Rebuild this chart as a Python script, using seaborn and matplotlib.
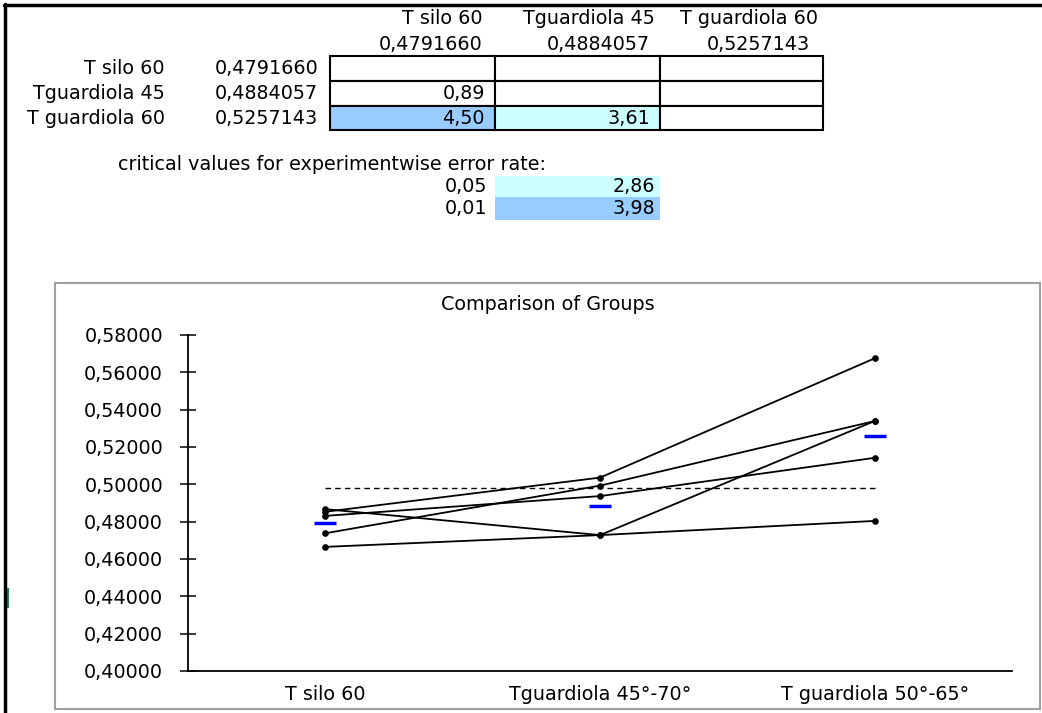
import numpy as np
import pandas as pd
import matplotlib
matplotlib.use('Agg')
import matplotlib.pyplot as plt
import seaborn as sns
from matplotlib.patches import Rectangle
from matplotlib.lines import Line2D
from matplotlib.ticker import FuncFormatter

# groups shown on the chart
categories = ['T silo 60', 'Tguardiola 45°-70°', 'T guardiola 50°-65°']

# one series per subject
subj_1 = [0.4665, 0.4728, 0.4804]
subj_2 = [0.4738, 0.4993, 0.5339]
subj_3 = [0.4867, 0.4728, 0.5339]
subj_4 = [0.4853, 0.5036, 0.5675]
subj_5 = [0.4831, 0.4937, 0.5142]

# group means from the table
table_names = ['T silo 60', 'Tguardiola 45', 'T guardiola 60']
group_means = [0.4791660, 0.4884057, 0.5257143]

# q statistics (row, col) and critical values
q_values = {(1, 0): 0.89, (2, 0): 4.50, (2, 1): 3.61}
alpha_levels = ['0,05', '0,01']
crit_values = [2.86, 3.98]

W, H = 1042, 713
BLUE = '#99CCFF'
CYAN = '#CCFFFF'


def fx(x):
    return x / W


def fy(y):
    return 1 - y / H


def comma(v, nd):
    return f'{v:.{nd}f}'.replace('.', ',')


sns.set_style('white')
plt.rcParams['font.family'] = ['DejaVu Sans']
plt.rcParams['text.color'] = 'black'
FS = 13.8

fig = plt.figure(figsize=(W / 100, H / 100), dpi=100)

# ---- sheet borders ----
fig.add_artist(Rectangle((fx(6), fy(608)), fx(3), 20 / H, color='#2E7D4F', lw=0))
fig.add_artist(Line2D([fx(4.5), fx(4.5)], [fy(4), fy(713)], color='black', lw=2.5))
fig.add_artist(Line2D([fx(4), fx(1042)], [fy(5), fy(5)], color='black', lw=2.5))

# ---- table of group means / q statistics ----
col_right = [483, 655, 818]
val_right = [483, 650, 810]
for name, m, xr, xv in zip(table_names, group_means, col_right, val_right):
    fig.text(fx(xr), fy(18), name, ha='right', va='center', fontsize=FS)
    fig.text(fx(xv), fy(44), comma(m, 7), ha='right', va='center', fontsize=FS)

col_edges = [330, 495, 660, 823]
row_edges = [56, 81, 106, 130]
for i, (name, m) in enumerate(zip(table_names, group_means)):
    yc = (row_edges[i] + row_edges[i + 1]) / 2
    fig.text(fx(165), fy(yc), name, ha='right', va='center', fontsize=FS)
    fig.text(fx(318), fy(yc), comma(m, 7), ha='right', va='center', fontsize=FS)
    for j in range(3):
        x0, x1 = col_edges[j], col_edges[j + 1]
        q = q_values.get((i, j))
        face = 'white'
        if q is not None:
            if q > crit_values[1]:
                face = BLUE
            elif q > crit_values[0]:
                face = CYAN
        fig.add_artist(Rectangle((fx(x0), fy(row_edges[i + 1])), (x1 - x0) / W,
                                 (row_edges[i + 1] - row_edges[i]) / H,
                                 facecolor=face, edgecolor='black', lw=1.5))
        if q is not None:
            fig.text(fx(x1 - 10), fy(yc), comma(q, 2), ha='right', va='center', fontsize=FS)

fig.text(fx(118), fy(165), 'critical values for experimentwise error rate:',
         ha='left', va='center', fontsize=FS)
crit_rows = [(176, 197), (197, 220)]
for lvl, cv, (y0, y1), face in zip(alpha_levels, crit_values, crit_rows, [CYAN, BLUE]):
    fig.add_artist(Rectangle((fx(495), fy(y1)), 165 / W, (y1 - y0) / H,
                             facecolor=face, edgecolor='none'))
    fig.text(fx(487), fy((y0 + y1) / 2), lvl, ha='right', va='center', fontsize=FS)
    fig.text(fx(655), fy((y0 + y1) / 2), comma(cv, 2), ha='right', va='center', fontsize=FS)

# ---- chart frame and title ----
fig.add_artist(Rectangle((fx(55), fy(709)), (1040 - 55) / W, (709 - 283) / H,
                         facecolor='none', edgecolor='#A0A0A0', lw=1.5))
fig.text(fx(548), fy(305), 'Comparison of Groups', ha='center', va='center', fontsize=FS)

# ---- the plot ----
ax = fig.add_axes([fx(188), fy(671), (1012 - 188) / W, (671 - 335) / H])
ax.set_facecolor('none')

subjects = [subj_1, subj_2, subj_3, subj_4, subj_5]
df = pd.DataFrame({
    'group': categories * len(subjects),
    'value': np.concatenate(subjects),
    'subject': np.repeat(np.arange(len(subjects)), len(categories)),
})
df['group'] = pd.Categorical(df['group'], categories=categories, ordered=True)

grand_mean = df['value'].mean()
sns.lineplot(x=categories, y=[grand_mean] * 3, color='black', lw=1,
             linestyle=(0, (4, 3)), ax=ax)

sns.lineplot(data=df, x='group', y='value', units='subject', estimator=None,
             sort=False, color='black', lw=1.3, marker='o', markersize=4,
             markeredgecolor='black', ax=ax)

ax.plot(categories, group_means, linestyle='none', marker='_', markersize=16,
        markeredgewidth=2.5, color='blue')

ax.set_xlim(-0.5, 2.5)
ax.set_ylim(0.40, 0.58)
ax.set_yticks(np.arange(0.40, 0.5801, 0.02))
ax.yaxis.set_major_formatter(FuncFormatter(lambda v, p: comma(v, 5)))
ax.set_xlabel('')
ax.set_ylabel('')
for s in ['top', 'right']:
    ax.spines[s].set_visible(False)
for s in ['left', 'bottom']:
    ax.spines[s].set_color('black')
    ax.spines[s].set_linewidth(1.3)
ax.tick_params(axis='y', direction='inout', length=12, width=1.1, color='black',
               left=True, pad=12, labelsize=FS, labelcolor='black')
ax.tick_params(axis='x', length=0, pad=10, labelsize=FS, labelcolor='black')

fig.savefig('out.png', dpi=100, facecolor='white')
